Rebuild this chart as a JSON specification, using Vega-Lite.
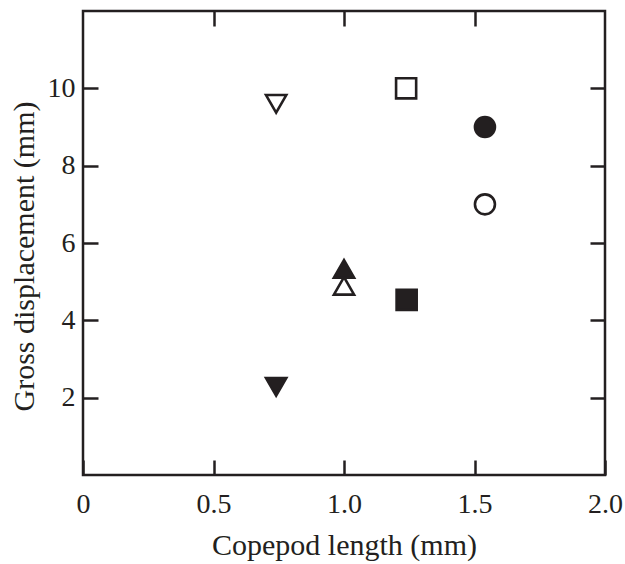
{
  "$schema": "https://vega.github.io/schema/vega-lite/v6.json",
  "width": 522,
  "height": 464,
  "autosize": "none",
  "padding": {"left": 83, "top": 11, "right": 20, "bottom": 89},
  "background": "white",
  "config": {
    "view": {"stroke": "#231f20", "strokeWidth": 2.5},
    "font": "Liberation Serif",
    "axis": {
      "domain": false,
      "grid": false,
      "tickColor": "#231f20",
      "tickWidth": 2.5,
      "tickSize": -15,
      "labelColor": "#231f20",
      "labelFont": "Liberation Serif",
      "labelFontSize": 28,
      "titleFont": "Liberation Serif",
      "titleFontSize": 30,
      "titleFontWeight": "normal",
      "titleColor": "#231f20"
    }
  },
  "data": {
    "values": [
      {"species": "Species A", "set": "open", "length": 0.74, "displacement": 9.6},
      {"species": "Species A", "set": "filled", "length": 0.74, "displacement": 2.28},
      {"species": "Species B", "set": "open", "length": 1.0, "displacement": 4.89},
      {"species": "Species B", "set": "filled", "length": 1.0, "displacement": 5.33},
      {"species": "Species C", "set": "open", "length": 1.238, "displacement": 10.0},
      {"species": "Species C", "set": "filled", "length": 1.24, "displacement": 4.53},
      {"species": "Species D", "set": "open", "length": 1.54, "displacement": 7.0},
      {"species": "Species D", "set": "filled", "length": 1.54, "displacement": 9.0}
    ]
  },
  "layer": [
    {
      "mark": {"type": "point", "filled": true, "stroke": "#231f20", "strokeWidth": 2.6, "opacity": 1, "strokeOpacity": 1, "fillOpacity": 1},
      "encoding": {
        "x": {
          "field": "length", "type": "quantitative",
          "scale": {"domain": [0, 2], "nice": false, "zero": false},
          "axis": {
            "orient": "bottom",
            "values": [0, 0.5, 1, 1.5, 2],
            "labelFlush": false,
            "labelPadding": 30,
            "labelExpr": "datum.value == 0 ? '0' : format(datum.value, '.1f')",
            "title": "Copepod length (mm)",
            "titlePadding": 12
          }
        },
        "y": {
          "field": "displacement", "type": "quantitative",
          "scale": {"domain": [0, 12], "nice": false, "zero": false},
          "axis": {
            "orient": "left",
            "values": [2, 4, 6, 8, 10],
            "labelPadding": 23,
            "title": "Gross displacement (mm)",
            "titlePadding": 8,
            "titleY": 245
          }
        },
        "shape": {
          "field": "species", "type": "nominal",
          "scale": {"domain": ["Species A", "Species B", "Species C", "Species D"], "range": ["triangle-down", "triangle-up", "square", "circle"]},
          "legend": null
        },
        "fill": {
          "field": "set", "type": "nominal",
          "scale": {"domain": ["open", "filled"], "range": ["white", "#231f20"]},
          "legend": null
        },
        "size": {
          "field": "species", "type": "nominal",
          "scale": {"domain": ["Species A", "Species B", "Species C", "Species D"], "range": [410, 400, 460, 310]},
          "legend": null
        }
      }
    },
    {
      "mark": {"type": "point", "opacity": 0},
      "encoding": {
        "x": {
          "field": "length", "type": "quantitative",
          "axis": {"orient": "top", "values": [0.5, 1, 1.5], "labels": false, "title": null}
        },
        "y": {
          "field": "displacement", "type": "quantitative",
          "axis": {"orient": "right", "values": [2, 4, 6, 8, 10], "labels": false, "title": null}
        }
      }
    }
  ],
  "resolve": {"axis": {"x": "independent", "y": "independent"}}
}
